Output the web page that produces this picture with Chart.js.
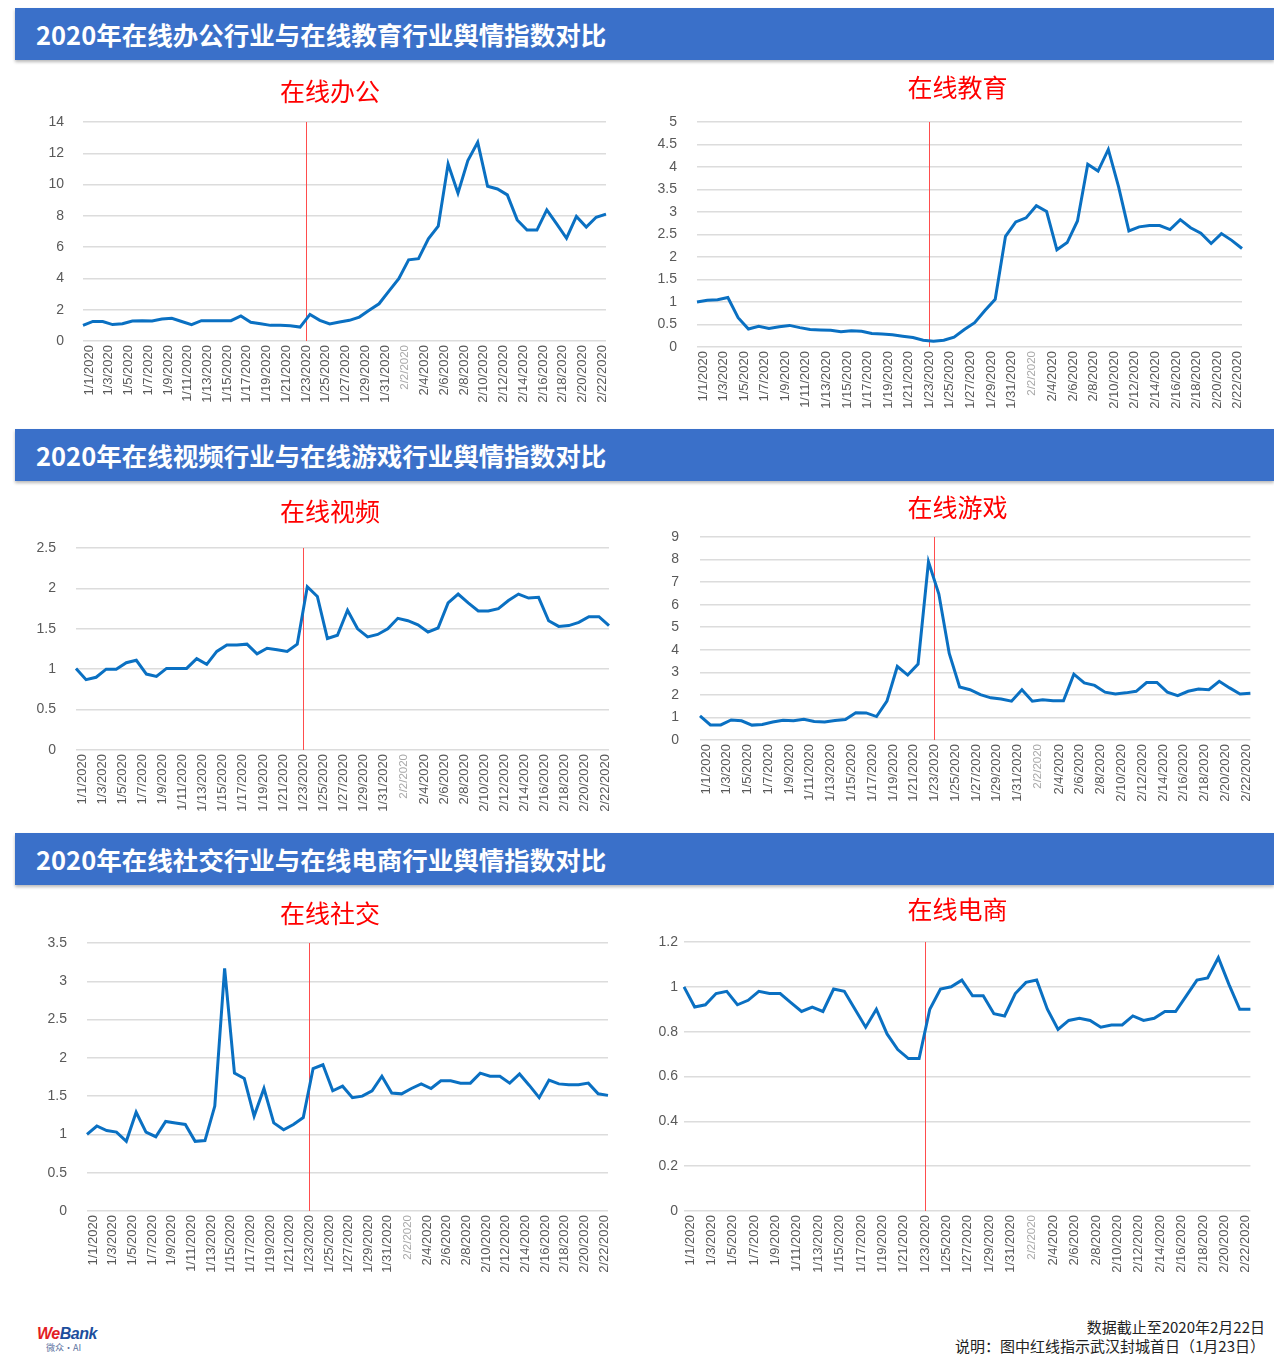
<!DOCTYPE html>
<html lang="zh-CN">
<head>
<meta charset="utf-8">
<title>2020年在线行业舆情指数对比</title>
<script src="https://cdn.jsdelivr.net/npm/chart.js@4.4.1/dist/chart.umd.min.js"></script>
<style>
  html, body { margin: 0; padding: 0; background: #fff; }
  body { position: relative; width: 1274px; height: 1355px; overflow: hidden; font-family: "Noto Sans CJK SC", sans-serif; }
  .band { position: absolute; left: 15px; right: 0; height: 52px; background: #3a70c9; color: #fff;
          font-size: 25.5px; font-weight: bold; line-height: 52px; padding-left: 21px;
          box-shadow: 0 2px 3px rgba(0,0,0,.28); }
  canvas { position: absolute; }
  .logo { position: absolute; left: 37px; top: 1325px; font: italic bold 16px "Liberation Sans", sans-serif; letter-spacing: -0.5px; }
  .logo .sub { font: 9px "Noto Sans CJK SC", sans-serif; color: #5a6f9e; font-style: normal; margin-left: 9px; margin-top: -2px; letter-spacing: 0; }
  .note { position: absolute; right: 9px; top: 1317px; text-align: right; font-size: 15px; line-height: 19px; color: #222; }
</style>
</head>
<body>

<div class="band" style="top:8px">2020年在线办公行业与在线教育行业舆情指数对比</div>
<div class="band" style="top:429px">2020年在线视频行业与在线游戏行业舆情指数对比</div>
<div class="band" style="top:833px">2020年在线社交行业与在线电商行业舆情指数对比</div>

<canvas id="office"></canvas>
<canvas id="edu"></canvas>
<canvas id="video"></canvas>
<canvas id="game"></canvas>
<canvas id="social"></canvas>
<canvas id="ecom"></canvas>

<div class="logo"><span style="color:#e31d25">We</span><span style="color:#1c4e9d">Bank</span><div class="sub">微众·AI</div></div>
<div class="note">数据截止至2020年2月22日<br>说明：图中红线指示武汉封城首日（1月23日）</div>

<script>
const dates = [
  '1/1/2020','1/2/2020','1/3/2020','1/4/2020','1/5/2020','1/6/2020','1/7/2020','1/8/2020','1/9/2020','1/10/2020',
  '1/11/2020','1/12/2020','1/13/2020','1/14/2020','1/15/2020','1/16/2020','1/17/2020','1/18/2020','1/19/2020','1/20/2020',
  '1/21/2020','1/22/2020','1/23/2020','1/24/2020','1/25/2020','1/26/2020','1/27/2020','1/28/2020','1/29/2020','1/30/2020',
  '1/31/2020','2/1/2020','2/2/2020','2/3/2020','2/4/2020','2/5/2020','2/6/2020','2/7/2020','2/8/2020','2/9/2020',
  '2/10/2020','2/11/2020','2/12/2020','2/13/2020','2/14/2020','2/15/2020','2/16/2020','2/17/2020','2/18/2020','2/19/2020',
  '2/20/2020','2/21/2020','2/22/2020','2/23/2020'
];
const lockdownDay = '1/23/2020';

// 在线办公
const officeIndex = [1.0, 1.25, 1.25, 1.05, 1.1, 1.28, 1.3, 1.28, 1.4, 1.45,
  1.25, 1.05, 1.3, 1.3, 1.3, 1.3, 1.6, 1.2, 1.1, 1.0,
  1.0, 0.98, 0.89, 1.7, 1.32, 1.09, 1.21, 1.32, 1.53, 1.96,
  2.38, 3.19, 3.98, 5.19, 5.26, 6.53, 7.34, 11.32, 9.45, 11.53,
  12.7, 9.89, 9.72, 9.34, 7.74, 7.09, 7.09, 8.38, 7.49, 6.57,
  7.96, 7.28, 7.91, 8.11];
// 在线教育
const eduIndex = [1.0, 1.04, 1.05, 1.1, 0.65, 0.4, 0.46, 0.41, 0.45, 0.48,
  0.43, 0.39, 0.38, 0.37, 0.34, 0.36, 0.35, 0.3, 0.29, 0.27,
  0.24, 0.21, 0.15, 0.13, 0.15, 0.22, 0.39, 0.54, 0.81, 1.06,
  2.46, 2.78, 2.87, 3.14, 3.01, 2.16, 2.32, 2.8, 4.06, 3.91,
  4.39, 3.56, 2.58, 2.67, 2.7, 2.7, 2.61, 2.83, 2.65, 2.53,
  2.3, 2.52, 2.37, 2.19];
// 在线视频
const videoIndex = [1.01, 0.87, 0.9, 1.0, 1.0, 1.08, 1.11, 0.94, 0.91, 1.01,
  1.01, 1.01, 1.13, 1.06, 1.22, 1.3, 1.3, 1.31, 1.19, 1.26,
  1.24, 1.22, 1.31, 2.02, 1.9, 1.38, 1.42, 1.73, 1.5, 1.4,
  1.43, 1.5, 1.63, 1.6, 1.55, 1.46, 1.51, 1.82, 1.93, 1.82,
  1.72, 1.72, 1.75, 1.85, 1.93, 1.88, 1.89, 1.6, 1.53, 1.54,
  1.58, 1.65, 1.65, 1.54];
// 在线游戏
const gameIndex = [1.07, 0.67, 0.67, 0.89, 0.85, 0.66, 0.69, 0.8, 0.88, 0.85,
  0.92, 0.82, 0.8, 0.86, 0.91, 1.21, 1.2, 1.04, 1.72, 3.26,
  2.88, 3.37, 7.9, 6.47, 3.84, 2.35, 2.23, 2.01, 1.87, 1.82,
  1.72, 2.23, 1.72, 1.78, 1.74, 1.74, 2.92, 2.53, 2.42, 2.12,
  2.04, 2.09, 2.16, 2.55, 2.55, 2.12, 1.97, 2.16, 2.26, 2.23,
  2.6, 2.31, 2.04, 2.07];
// 在线社交
const socialIndex = [1.0, 1.11, 1.05, 1.03, 0.91, 1.29, 1.03, 0.97, 1.17, 1.15,
  1.13, 0.91, 0.92, 1.37, 3.17, 1.8, 1.73, 1.24, 1.6, 1.15,
  1.06, 1.13, 1.22, 1.86, 1.91, 1.57, 1.63, 1.48, 1.5, 1.57,
  1.76, 1.54, 1.53, 1.6, 1.66, 1.6, 1.7, 1.7, 1.67, 1.67,
  1.8, 1.76, 1.76, 1.67, 1.79, 1.64, 1.48, 1.71, 1.66, 1.65,
  1.65, 1.67, 1.53, 1.51];
// 在线电商
const ecomIndex = [1.0, 0.91, 0.92, 0.97, 0.98, 0.92, 0.94, 0.98, 0.97, 0.97,
  0.93, 0.89, 0.91, 0.89, 0.99, 0.98, 0.9, 0.82, 0.9, 0.79,
  0.72, 0.68, 0.68, 0.9, 0.99, 1.0, 1.03, 0.96, 0.96, 0.88,
  0.87, 0.97, 1.02, 1.03, 0.9, 0.81, 0.85, 0.86, 0.85, 0.82,
  0.83, 0.83, 0.87, 0.85, 0.86, 0.89, 0.89, 0.96, 1.03, 1.04,
  1.13, 1.01, 0.9, 0.9];

// 红线：武汉封城首日
const lockdownLine = {
  id: 'lockdownLine',
  beforeDatasetsDraw(chart) {
    const xs = chart.scales.x;
    const { top, bottom } = chart.chartArea;
    const px = Math.round(xs.getPixelForValue(dates.indexOf(lockdownDay)) + xs.options.ticks.labelOffset) + 0.5;
    const ctx = chart.ctx;
    ctx.save();
    ctx.strokeStyle = '#ff4d4d';
    ctx.lineWidth = 1;
    ctx.beginPath();
    ctx.moveTo(px, top);
    ctx.lineTo(px, bottom);
    ctx.stroke();
    ctx.restore();
  }
};

function drawPanel(p) {
  const cv = document.getElementById(p.id);
  cv.width = p.w;
  cv.height = p.h;
  cv.style.left = p.left + 'px';
  cv.style.top = p.top + 'px';

  new Chart(cv, {
    type: 'line',
    data: {
      labels: dates,
      datasets: [{
        data: p.values,
        borderColor: '#0a70c2',
        borderWidth: 3,
        pointRadius: 0,
        tension: 0,
        fill: false
      }]
    },
    plugins: [lockdownLine],
    options: {
      responsive: false,
      animation: false,
      plugins: {
        legend: { display: false },
        tooltip: { enabled: false },
        title: {
          display: true,
          text: p.title,
          color: '#ff0000',
          font: { family: 'Noto Sans CJK SC', size: 25, weight: 'normal' },
          padding: { top: 6, bottom: p.gap }
        }
      },
      scales: {
        x: {
          grid: { display: false, drawTicks: false },
          border: { display: false },
          afterFit(s) { s.height = 66; },
          ticks: {
            autoSkip: false,
            minRotation: 90,
            maxRotation: 90,
            padding: 4,
            labelOffset: 6,
            color: (c) => c.index === 32 ? '#a8a8a8' : '#595959',
            font: (c) => ({ family: 'Liberation Sans', size: c.index === 32 ? 11.5 : 13 }),
            callback: (v, i) => i % 2 === 0 ? dates[i] : ''
          }
        },
        y: {
          min: 0,
          max: p.max,
          afterFit(s) { s.width = p.axisW; },
          border: { display: false },
          grid: { color: '#dcdcdc', lineWidth: 1.5, drawTicks: false },
          ticks: {
            stepSize: p.step,
            padding: p.tickPad,
            color: '#595959',
            font: { family: 'Liberation Sans', size: 14 },
            callback: (v) => String(+v.toFixed(1))
          }
        },
        // empty right-hand axis: keeps the plot's right margin while the title stays centred on the canvas
        gutter: {
          type: 'linear',
          position: 'right',
          grid: { display: false, drawTicks: false },
          border: { display: false },
          ticks: { display: false },
          afterFit(s) { s.width = p.padR; }
        }
      }
    }
  });
}

[
  { id: 'office', title: '在线办公', values: officeIndex, max: 14,  step: 2,   left: 20,  top: 70,  w: 620, h: 337, axisW: 63, padR: 34, gap: 16, tickPad: 19 },
  { id: 'edu',    title: '在线教育', values: eduIndex,    max: 5,   step: 0.5, left: 645, top: 66,  w: 625, h: 347, axisW: 52, padR: 28, gap: 20, tickPad: 20 },
  { id: 'video',  title: '在线视频', values: videoIndex,  max: 2.5, step: 0.5, left: 20,  top: 490, w: 620, h: 326, axisW: 56, padR: 31, gap: 22, tickPad: 20 },
  { id: 'game',   title: '在线游戏', values: gameIndex,   max: 9,   step: 1,   left: 645, top: 486, w: 625, h: 320, axisW: 55, padR: 14, gap: 15, tickPad: 21 },
  { id: 'social', title: '在线社交', values: socialIndex, max: 3.5, step: 0.5, left: 20,  top: 892, w: 620, h: 385, axisW: 67, padR: 32, gap: 15, tickPad: 20 },
  { id: 'ecom',   title: '在线电商', values: ecomIndex,   max: 1.2, step: 0.2, left: 645, top: 888, w: 625, h: 389, axisW: 39, padR: 16, gap: 18, tickPad: 6 }
].forEach(drawPanel);
</script>
</body>
</html>
